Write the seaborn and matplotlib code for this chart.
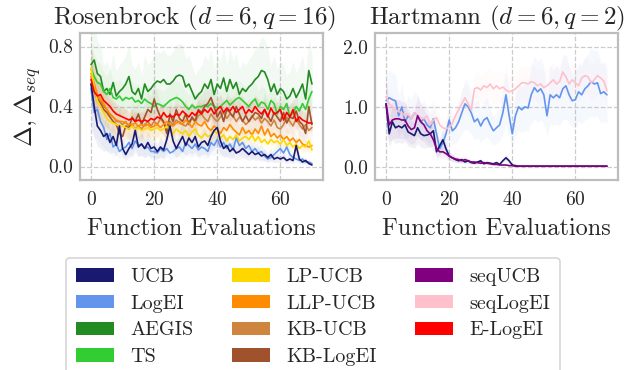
import numpy as np
import pandas as pd
import matplotlib
matplotlib.use("Agg")
import matplotlib.pyplot as plt
from matplotlib.patches import Patch
import seaborn as sns

steps = list(range(71))

# ---- Rosenbrock (d=6, q=16) ----
ros_AEGIS = [0.68,0.71,0.62,0.60,0.50,0.52,0.48,0.56,0.47,0.50,0.52,0.55,0.60,0.50,0.48,0.52,0.45,0.55,0.50,0.52,
             0.55,0.57,0.56,0.58,0.55,0.55,0.57,0.60,0.61,0.60,0.53,0.55,0.50,0.45,0.48,0.50,0.55,0.52,0.58,0.48,
             0.55,0.52,0.59,0.50,0.58,0.52,0.56,0.48,0.52,0.50,0.53,0.55,0.58,0.60,0.64,0.63,0.58,0.50,0.55,0.48,
             0.52,0.50,0.45,0.47,0.52,0.46,0.50,0.55,0.45,0.64,0.55]
ros_TS = [0.65,0.60,0.56,0.55,0.50,0.48,0.52,0.46,0.45,0.47,0.44,0.46,0.45,0.46,0.43,0.44,0.42,0.45,0.43,0.42,
          0.40,0.42,0.41,0.40,0.42,0.44,0.45,0.46,0.45,0.43,0.40,0.38,0.41,0.39,0.40,0.40,0.41,0.40,0.42,0.40,
          0.39,0.40,0.42,0.44,0.41,0.43,0.45,0.46,0.44,0.42,0.40,0.43,0.45,0.40,0.43,0.42,0.38,0.44,0.42,0.35,
          0.40,0.38,0.42,0.33,0.36,0.40,0.37,0.42,0.38,0.45,0.50]
ros_ELogEI = [0.58,0.50,0.47,0.48,0.44,0.42,0.40,0.37,0.35,0.34,0.33,0.32,0.31,0.32,0.30,0.31,0.30,0.31,0.30,0.32,
              0.31,0.33,0.32,0.36,0.33,0.34,0.33,0.35,0.34,0.37,0.35,0.33,0.36,0.34,0.37,0.35,0.38,0.36,0.39,0.35,
              0.38,0.40,0.36,0.39,0.37,0.40,0.36,0.38,0.40,0.35,0.38,0.36,0.40,0.37,0.35,0.38,0.33,0.39,0.35,0.36,
              0.38,0.31,0.36,0.33,0.38,0.30,0.33,0.31,0.30,0.29,0.29]
ros_KBLogEI = [0.55,0.50,0.45,0.42,0.38,0.36,0.33,0.30,0.28,0.22,0.20,0.27,0.25,0.33,0.30,0.35,0.28,0.33,0.38,0.36,
               0.45,0.38,0.33,0.30,0.22,0.35,0.30,0.38,0.32,0.30,0.35,0.28,0.33,0.30,0.38,0.36,0.40,0.42,0.46,0.40,
               0.33,0.37,0.30,0.38,0.36,0.33,0.40,0.35,0.30,0.34,0.30,0.33,0.36,0.35,0.32,0.38,0.34,0.30,0.36,0.33,
               0.30,0.36,0.29,0.33,0.32,0.37,0.30,0.28,0.22,0.40,0.28]
ros_KBUCB = [0.60,0.52,0.47,0.44,0.40,0.38,0.35,0.33,0.30,0.30,0.28,0.30,0.26,0.28,0.25,0.27,0.25,0.28,0.30,0.27,
             0.30,0.28,0.32,0.29,0.27,0.30,0.28,0.31,0.29,0.28,0.27,0.30,0.32,0.30,0.34,0.35,0.32,0.30,0.35,0.32,
             0.30,0.33,0.36,0.32,0.35,0.34,0.30,0.33,0.31,0.28,0.30,0.34,0.31,0.33,0.29,0.32,0.30,0.27,0.31,0.26,
             0.25,0.28,0.33,0.30,0.27,0.32,0.28,0.25,0.28,0.24,0.26]
ros_LLPUCB = [0.62,0.55,0.48,0.45,0.42,0.38,0.35,0.33,0.31,0.30,0.30,0.29,0.28,0.28,0.29,0.27,0.28,0.27,0.28,0.26,
              0.27,0.28,0.26,0.28,0.30,0.28,0.27,0.29,0.30,0.28,0.31,0.29,0.26,0.30,0.28,0.27,0.30,0.26,0.24,0.27,
              0.25,0.22,0.26,0.24,0.28,0.25,0.23,0.21,0.26,0.22,0.24,0.21,0.25,0.22,0.27,0.21,0.25,0.20,0.22,0.19,
              0.21,0.18,0.20,0.17,0.19,0.16,0.18,0.15,0.14,0.13,0.14]
ros_LPUCB = [0.66,0.52,0.44,0.40,0.36,0.32,0.30,0.29,0.28,0.27,0.27,0.26,0.25,0.27,0.25,0.26,0.24,0.25,0.26,0.24,
             0.25,0.26,0.24,0.25,0.27,0.24,0.22,0.25,0.23,0.22,0.24,0.20,0.23,0.25,0.21,0.19,0.22,0.20,0.21,0.24,
             0.22,0.19,0.21,0.17,0.20,0.18,0.21,0.17,0.19,0.20,0.18,0.21,0.17,0.20,0.16,0.18,0.15,0.18,0.16,0.17,
             0.15,0.18,0.14,0.16,0.13,0.15,0.12,0.14,0.13,0.17,0.11]
ros_UCB = [0.55,0.40,0.27,0.24,0.20,0.22,0.16,0.20,0.14,0.27,0.12,0.08,0.12,0.15,0.24,0.13,0.15,0.12,0.16,0.12,
           0.13,0.10,0.13,0.11,0.18,0.27,0.17,0.12,0.16,0.20,0.14,0.19,0.16,0.20,0.13,0.16,0.17,0.14,0.20,0.24,
           0.26,0.17,0.12,0.14,0.10,0.12,0.09,0.10,0.12,0.10,0.08,0.10,0.08,0.09,0.07,0.08,0.06,0.08,0.05,0.06,
           0.05,0.06,0.04,0.05,0.04,0.14,0.05,0.03,0.04,0.02,0.01]
ros_LogEI = [0.52,0.36,0.38,0.30,0.26,0.18,0.22,0.13,0.15,0.10,0.12,0.13,0.16,0.12,0.17,0.14,0.15,0.12,0.13,0.10,
             0.10,0.09,0.12,0.10,0.12,0.09,0.10,0.12,0.13,0.10,0.16,0.14,0.12,0.15,0.11,0.13,0.12,0.10,0.16,0.14,
             0.18,0.13,0.16,0.12,0.15,0.11,0.19,0.14,0.16,0.12,0.14,0.10,0.12,0.09,0.10,0.07,0.05,0.06,0.08,0.10,
             0.12,0.09,0.13,0.08,0.06,0.05,0.04,0.05,0.03,0.03,0.02]

# ---- Hartmann (d=6, q=2) ----
har_seqLogEI = [1.17,1.05,1.00,0.95,0.92,0.90,0.85,0.88,0.80,0.90,0.85,0.82,0.80,0.85,0.70,0.78,0.82,0.70,0.65,0.63,
                0.66,0.72,0.85,0.95,1.05,1.15,1.05,0.95,1.30,1.32,1.28,1.35,1.32,1.38,1.30,1.35,1.30,1.33,1.28,1.25,
                1.27,1.30,1.35,1.40,1.40,1.38,1.42,1.40,1.35,1.38,1.32,1.35,1.40,1.45,1.38,1.42,1.58,1.50,1.38,1.45,
                1.40,1.35,1.48,1.52,1.50,1.40,1.45,1.52,1.48,1.43,1.27]
har_LogEI = [1.10,1.15,1.12,1.10,0.85,1.00,0.75,0.85,0.80,0.90,0.85,0.75,0.80,0.70,0.65,0.80,0.55,0.30,0.40,0.55,
             0.78,0.60,0.65,0.75,0.90,1.05,1.00,0.90,0.75,0.80,0.68,0.78,0.82,0.70,0.60,0.65,0.70,0.90,1.20,0.85,
             0.55,0.85,1.00,0.95,1.00,0.98,1.20,1.32,1.25,1.30,1.20,0.85,1.20,1.15,1.20,1.15,1.30,1.35,1.20,1.10,
             1.12,1.25,1.20,1.30,1.35,1.42,1.38,1.40,1.22,1.25,1.20]
har_UCB = [1.05,0.55,0.75,0.65,0.68,0.65,0.70,0.58,0.55,0.52,0.65,0.55,0.52,0.53,0.55,0.60,0.25,0.35,0.45,0.30,
           0.18,0.15,0.12,0.10,0.12,0.08,0.10,0.07,0.06,0.08,0.10,0.05,0.07,0.06,0.05,0.07,0.04,0.10,0.15,0.10,
           0.03,0.02,0.01,0.01,0.01,0.01,0.01,0.01,0.01,0.01,0.01,0.01,0.01,0.01,0.01,0.01,0.01,0.01,0.01,0.01,
           0.01,0.01,0.01,0.01,0.01,0.01,0.01,0.01,0.01,0.01,0.01]
har_seqUCB = [1.05,0.70,0.78,0.80,0.80,0.78,0.78,0.68,0.62,0.65,0.85,0.75,0.70,0.60,0.55,0.45,0.30,0.25,0.25,0.22,
              0.18,0.15,0.13,0.12,0.10,0.12,0.10,0.08,0.08,0.07,0.06,0.07,0.06,0.05,0.04,0.04,0.03,0.03,0.03,0.02,
              0.02,0.01,0.01,0.01,0.01,0.01,0.01,0.01,0.01,0.01,0.01,0.01,0.01,0.01,0.01,0.01,0.01,0.01,0.01,0.01,
              0.01,0.01,0.01,0.01,0.01,0.01,0.01,0.01,0.01,0.01,0.01]

# relative spread of the shaded bands
ros_spread = {"AEGIS": 0.35, "TS": 0.25, "E-LogEI": 0.2, "KB-LogEI": 0.3, "KB-UCB": 0.3,
              "LLP-UCB": 0.3, "LP-UCB": 0.3, "UCB": 0.5, "LogEI": 0.5}
har_spread = {"seqLogEI": 0.2, "LogEI": 0.4, "UCB": 0.4, "seqUCB": 0.4}

colors = {"UCB": "#191970", "LogEI": "#6495ED", "AEGIS": "#228B22", "TS": "#32CD32",
          "LP-UCB": "#FFD700", "LLP-UCB": "#FF8C00", "KB-UCB": "#CD853F", "KB-LogEI": "#A0522D",
          "seqUCB": "#800080", "seqLogEI": "#FFC0CB", "E-LogEI": "#FF0000"}
legend_order = ["UCB", "LogEI", "AEGIS", "TS", "LP-UCB", "LLP-UCB", "KB-UCB", "KB-LogEI",
                "seqUCB", "seqLogEI", "E-LogEI"]

ros = {"AEGIS": ros_AEGIS, "TS": ros_TS, "KB-UCB": ros_KBUCB, "KB-LogEI": ros_KBLogEI,
       "LLP-UCB": ros_LLPUCB, "LP-UCB": ros_LPUCB, "LogEI": ros_LogEI, "UCB": ros_UCB, "E-LogEI": ros_ELogEI}
har = {"LogEI": har_LogEI, "seqLogEI": har_seqLogEI, "UCB": har_UCB, "seqUCB": har_seqUCB}

sns.set_theme(style="whitegrid")
plt.rcParams.update({
    "font.family": ["serif"],
    "font.serif": ["cmr10", "DejaVu Serif"],
    "mathtext.fontset": "cm",
    "axes.formatter.use_mathtext": True,
    "axes.edgecolor": "#bdbdbd",
    "axes.linewidth": 1.6,
    "grid.linestyle": "--",
    "grid.color": "#cccccc",
    "grid.linewidth": 0.9,
    "axes.unicode_minus": False,
})

fig = plt.figure(figsize=(6.29, 3.70), dpi=100)
ax1 = fig.add_axes([80/629, 1-180/370, 243/629, 147/370])
ax2 = fig.add_axes([375/629, 1-180/370, 243/629, 147/370])


def draw(ax, series, spread):
    for name, vals in series.items():
        y = np.array(vals)
        s = spread[name]
        ax.fill_between(steps, y * (1 - s), y * (1 + s), color=colors[name], alpha=0.06, lw=0)
    for name, vals in series.items():
        df = pd.DataFrame({"x": steps, "y": vals})
        sns.lineplot(data=df, x="x", y="y", ax=ax, color=colors[name], lw=1.2)


draw(ax1, ros, ros_spread)
draw(ax2, har, har_spread)

ax1.set_ylim(-0.09, 0.89)
ax1.set_yticks([0.0, 0.4, 0.8])
ax1.set_yticklabels(["0.0", "0.4", "0.8"])
ax2.set_ylim(-0.22, 2.23)
ax2.set_yticks([0.0, 1.0, 2.0])
ax2.set_yticklabels(["0.0", "1.0", "2.0"])
for ax in (ax1, ax2):
    ax.set_xlim(-3.5, 73.5)
    ax.set_xticks([0, 20, 40, 60])
    ax.tick_params(axis="y", labelsize=14, pad=5, length=0)
    ax.tick_params(axis="x", labelsize=14, pad=8, length=0)
    ax.set_xlabel("Function Evaluations", fontsize=17.5, labelpad=6)
    ax.set_ylabel("")
ax1.set_ylabel(r"$\Delta, \Delta_{seq}$", fontsize=18, labelpad=4)
ax1.set_title(r"Rosenbrock ($d = 6, q = 16$)", fontsize=18, pad=6, x=0.47)
ax2.set_title(r"Hartmann ($d = 6, q = 2$)", fontsize=18, pad=6)

handles = [Patch(facecolor=colors[n], edgecolor="none", label=n) for n in legend_order]
leg = fig.legend(handles=handles, loc="upper center", bbox_to_anchor=(0.498, 1 - 248/370),
                 ncol=3, fontsize=14.5, frameon=True, handlelength=1.9, handleheight=0.65,
                 handletextpad=0.8, columnspacing=1.9, labelspacing=0.43, borderpad=0.5,
                 fancybox=True)
leg.get_frame().set_edgecolor("#cccccc")
leg.get_frame().set_linewidth(1.2)

fig.savefig("out.png", dpi=100)
